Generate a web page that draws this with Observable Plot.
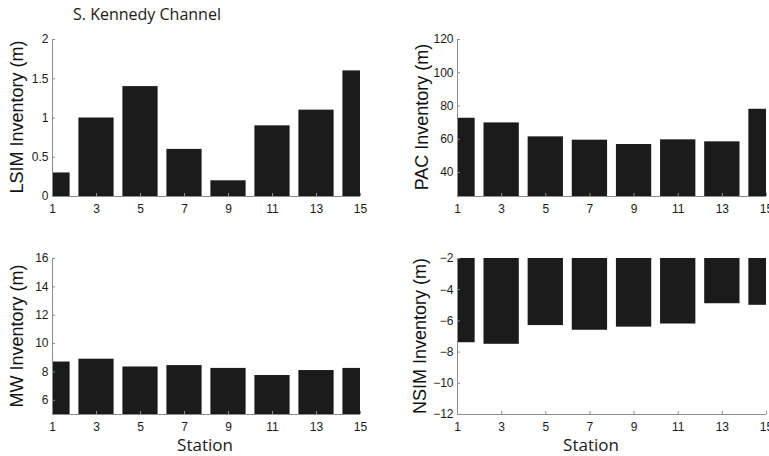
<!DOCTYPE html>
<html><head><meta charset="utf-8">
<script src="https://cdn.jsdelivr.net/npm/d3@7"></script>
<script src="https://cdn.jsdelivr.net/npm/@observablehq/plot@0.6"></script>
<style>
body{margin:0;background:#fff;}
#wrap{position:relative;width:769px;height:456px;overflow:hidden;background:#fff;}
.panel{position:absolute;}
.ylab{position:absolute;font-family:"Liberation Sans",Arial,sans-serif;font-size:18px;color:#111;transform:translate(-50%,-50%) rotate(-90deg);white-space:nowrap;line-height:1;}
.txt{position:absolute;font-family:"Open Sans",sans-serif;color:#1a1a1a;white-space:nowrap;line-height:1;}
</style></head><body><div id="wrap"></div>
<script>
const stations = [1, 3, 5, 7, 9, 11, 13, 15];
const lsim = [0.3, 1.0, 1.4, 0.6, 0.2, 0.9, 1.1, 1.6];
const pac = [72.6, 69.8, 61.4, 59.4, 56.8, 59.6, 58.4, 78.0];
const mw = [8.7, 8.9, 8.35, 8.45, 8.25, 7.75, 8.1, 8.25];
const nsim = [-7.4, -7.5, -6.3, -6.6, -6.4, -6.2, -4.9, -5.0];
const xTicks = [1, 3, 5, 7, 9, 11, 13, 15];
const lsimTicks = [0, 0.5, 1, 1.5, 2];
const pacTicks = [40, 60, 80, 100, 120];
const mwTicks = [6, 8, 10, 12, 14, 16];
const nsimTicks = [-12, -10, -8, -6, -4, -2];
const title = "S. Kennedy Channel";
const xLabel = "Station";
const yLabels = ["LSIM Inventory (m)", "PAC Inventory (m)", "MW Inventory (m)", "NSIM Inventory (m)"];

const wrap = document.getElementById("wrap");
const halfBar = 0.8;

function panel(values, yDomain, yTicks, yLabel, box) {
  const data = stations.map((s, i) => ({station: s, value: values[i]}));
  const chart = Plot.plot({
    width: box.w, height: box.h,
    marginLeft: box.ml, marginRight: box.mr, marginTop: box.mt, marginBottom: box.mb,
    style: {fontFamily: "'Liberation Sans', Arial, sans-serif", fontSize: "12px", color: "#1a1a1a", background: "white", overflow: "visible"},
    x: {domain: [stations[0], stations[stations.length - 1]]},
    y: {domain: yDomain},
    marks: [
      Plot.rectY(data, {x1: d => d.station - halfBar, x2: d => d.station + halfBar, y1: 0, y2: "value", fill: "#1b1b1b", clip: true}),
      Plot.ruleX([stations[0]], {stroke: "#8c8c8c"}),
      Plot.ruleY([yDomain[0]], {stroke: "#8c8c8c"}),
      Plot.axisX({ticks: xTicks, tickSize: -3, tickPadding: 11, stroke: "#8c8c8c", label: null, tickFormat: d => String(d), fill: "#1a1a1a"}),
      Plot.axisY({ticks: yTicks, tickSize: -3, tickPadding: 7, stroke: "#8c8c8c", label: null, tickFormat: d => String(d).replace("-", "\u2212"), fill: "#1a1a1a"})
    ]
  });
  chart.classList.add("panel");
  chart.style.left = box.x + "px";
  chart.style.top = box.y + "px";
  wrap.appendChild(chart);
  const lab = document.createElement("div");
  lab.className = "ylab";
  lab.textContent = yLabel;
  lab.style.left = box.lx + "px";
  lab.style.top = box.ly + "px";
  wrap.appendChild(lab);
}

panel(lsim, [0, 2], lsimTicks, yLabels[0], {x: 0, y: 0, w: 384, h: 228, ml: 52, mr: 24, mt: 39, mb: 32, lx: 17, ly: 117});
panel(pac, [25.5, 120], pacTicks, yLabels[1], {x: 384, y: 0, w: 385, h: 228, ml: 73, mr: 3, mt: 39, mb: 32, lx: 422, ly: 117});
panel(mw, [5, 16], mwTicks, yLabels[2], {x: 0, y: 228, w: 384, h: 228, ml: 52, mr: 24, mt: 30, mb: 42, lx: 17, ly: 336});
panel(nsim, [-12, -2], nsimTicks, yLabels[3], {x: 384, y: 228, w: 385, h: 228, ml: 73, mr: 3, mt: 30, mb: 42, lx: 420, ly: 336});

function addText(t, x, y, size) {
  const d = document.createElement("div");
  d.className = "txt";
  d.textContent = t;
  d.style.left = x + "px";
  d.style.top = y + "px";
  d.style.fontSize = size + "px";
  wrap.appendChild(d);
  return d;
}
addText(title, 73, 6, 16);
const s1 = addText(xLabel, 205, 436, 17); s1.style.transform = "translateX(-50%)";
const s2 = addText(xLabel, 591, 436, 17); s2.style.transform = "translateX(-50%)";
</script></body></html>
